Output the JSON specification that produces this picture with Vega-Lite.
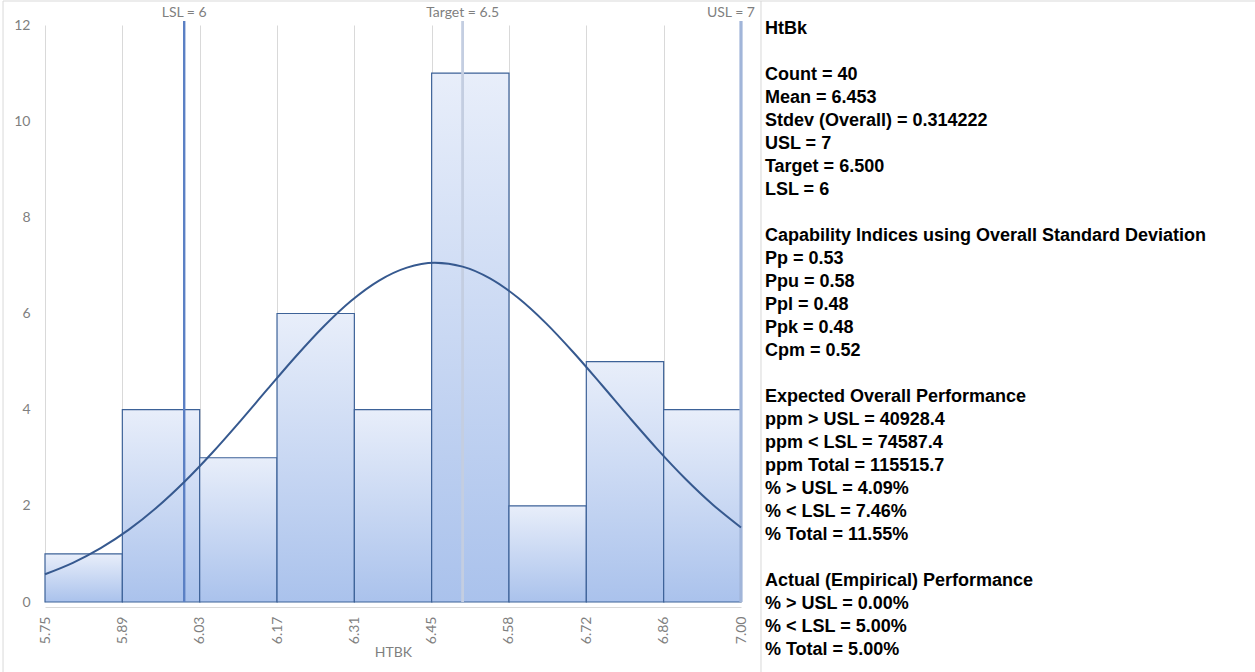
{
  "$schema": "https://vega.github.io/schema/vega-lite/v6.json",
  "width": 696,
  "height": 577,
  "autosize": {"type": "none"},
  "padding": {"left": 45, "top": 25, "right": 514, "bottom": 70},
  "background": "white",
  "config": {"view": {"stroke": null}, "font": "Lato"},
  "datasets": {
    "bins": [
      {"bin_start": 5.75, "bin_end": 5.8889, "count": 1},
      {"bin_start": 5.8889, "bin_end": 6.0278, "count": 4},
      {"bin_start": 6.0278, "bin_end": 6.1667, "count": 3},
      {"bin_start": 6.1667, "bin_end": 6.3056, "count": 6},
      {"bin_start": 6.3056, "bin_end": 6.4444, "count": 4},
      {"bin_start": 6.4444, "bin_end": 6.5833, "count": 11},
      {"bin_start": 6.5833, "bin_end": 6.7222, "count": 2},
      {"bin_start": 6.7222, "bin_end": 6.8611, "count": 5},
      {"bin_start": 6.8611, "bin_end": 7.0, "count": 4}
    ],
    "curve": [
      {"x": 5.75, "y": 0.577}, {"x": 5.8, "y": 0.814}, {"x": 5.85, "y": 1.119},
      {"x": 5.9, "y": 1.499}, {"x": 5.95, "y": 1.959}, {"x": 6.0, "y": 2.495},
      {"x": 6.05, "y": 3.099}, {"x": 6.1, "y": 3.753}, {"x": 6.15, "y": 4.431},
      {"x": 6.2, "y": 5.101}, {"x": 6.25, "y": 5.725}, {"x": 6.3, "y": 6.265},
      {"x": 6.35, "y": 6.685}, {"x": 6.4, "y": 6.954}, {"x": 6.45, "y": 7.053},
      {"x": 6.5, "y": 6.975}, {"x": 6.55, "y": 6.725}, {"x": 6.6, "y": 6.322},
      {"x": 6.65, "y": 5.795}, {"x": 6.7, "y": 5.179}, {"x": 6.75, "y": 4.513},
      {"x": 6.8, "y": 3.833}, {"x": 6.85, "y": 3.175}, {"x": 6.9, "y": 2.564},
      {"x": 6.95, "y": 2.019}, {"x": 7.0, "y": 1.55}
    ],
    "limits": [
      {"name": "LSL", "value": 6.0, "label": "LSL = 6"},
      {"name": "Target", "value": 6.5, "label": "Target = 6.5"},
      {"name": "USL", "value": 7.0, "label": "USL = 7"}
    ],
    "stats": [
      {"line": 0, "text": "HtBk"},
      {"line": 2, "text": "Count = 40"},
      {"line": 3, "text": "Mean = 6.453"},
      {"line": 4, "text": "Stdev (Overall) = 0.314222"},
      {"line": 5, "text": "USL = 7"},
      {"line": 6, "text": "Target = 6.500"},
      {"line": 7, "text": "LSL = 6"},
      {"line": 9, "text": "Capability Indices using Overall Standard Deviation"},
      {"line": 10, "text": "Pp = 0.53"},
      {"line": 11, "text": "Ppu = 0.58"},
      {"line": 12, "text": "Ppl = 0.48"},
      {"line": 13, "text": "Ppk = 0.48"},
      {"line": 14, "text": "Cpm = 0.52"},
      {"line": 16, "text": "Expected Overall Performance"},
      {"line": 17, "text": "ppm > USL = 40928.4"},
      {"line": 18, "text": "ppm < LSL = 74587.4"},
      {"line": 19, "text": "ppm Total = 115515.7"},
      {"line": 20, "text": "% > USL = 4.09%"},
      {"line": 21, "text": "% < LSL = 7.46%"},
      {"line": 22, "text": "% Total = 11.55%"},
      {"line": 24, "text": "Actual (Empirical) Performance"},
      {"line": 25, "text": "% > USL = 0.00%"},
      {"line": 26, "text": "% < LSL = 5.00%"},
      {"line": 27, "text": "% Total = 5.00%"}
    ]
  },
  "layer": [
    {
      "data": {"name": "bins"},
      "mark": {
        "type": "rect",
        "fill": {
          "gradient": "linear", "x1": 0, "y1": 0, "x2": 0, "y2": 1,
          "stops": [{"offset": 0, "color": "#e8eefa"}, {"offset": 1, "color": "#aac2ec"}]
        },
        "stroke": "#3d6298",
        "strokeWidth": 1.2
      },
      "encoding": {
        "x": {
          "field": "bin_start", "type": "quantitative",
          "scale": {"domain": [5.75, 7.0], "nice": false, "zero": false},
          "axis": {
            "values": [5.75, 5.8889, 6.0278, 6.1667, 6.3056, 6.4444, 6.5833, 6.7222, 6.8611, 7.0],
            "labelExpr": "datum.value > 6.44 && datum.value < 6.45 ? '6.45' : format(datum.value, '.2f')",
            "title": "HTBK",
            "titleColor": "#7f7f7f", "titleFontSize": 14, "titleFontWeight": "normal", "titlePadding": 2,
            "labelColor": "#7f7f7f", "labelFontSize": 14, "labelAngle": 270, "labelPadding": 9,
            "grid": true, "gridColor": "#d9d9d9", "gridWidth": 1,
            "ticks": false, "domain": true, "domainColor": "#d9d9d9", "domainWidth": 1.2, "offset": 5,
            "labelFlush": false, "labelOverlap": false
          }
        },
        "x2": {"field": "bin_end"},
        "y": {
          "field": "count", "type": "quantitative",
          "scale": {"domain": [0, 12], "nice": false},
          "axis": {
            "values": [0, 2, 4, 6, 8, 10, 12],
            "title": null, "grid": false, "ticks": false, "domain": false,
            "labelColor": "#7f7f7f", "labelFontSize": 14, "labelPadding": 15
          }
        },
        "y2": {"datum": 0}
      }
    },
    {
      "data": {"name": "limits"},
      "mark": {"type": "rule"},
      "encoding": {
        "x": {"field": "value", "type": "quantitative"},
        "y": {"datum": 0, "axis": null, "scale": {"domain": [0, 12], "nice": false}},
        "y2": {"datum": 12.083},
        "color": {
          "field": "name", "type": "nominal", "legend": null,
          "scale": {"domain": ["LSL", "Target", "USL"], "range": ["#5b80c4", "#c4cee1", "#a1b5d9"]}
        },
        "strokeWidth": {
          "field": "name", "type": "nominal", "legend": null,
          "scale": {"domain": ["LSL", "Target", "USL"], "range": [2.4, 3.2, 2.2]}
        }
      }
    },
    {
      "data": {"name": "limits"},
      "transform": [{"filter": "datum.name != 'USL'"}],
      "mark": {"type": "text", "baseline": "bottom", "align": "center", "dy": -1, "fontSize": 14, "color": "#7f7f7f"},
      "encoding": {
        "x": {"field": "value", "type": "quantitative"},
        "y": {"datum": 12.083, "axis": null, "scale": {"domain": [0, 12], "nice": false}},
        "text": {"field": "label"}
      }
    },
    {
      "data": {"name": "limits"},
      "transform": [{"filter": "datum.name == 'USL'"}],
      "mark": {"type": "text", "baseline": "bottom", "align": "right", "dx": 14, "dy": -1, "fontSize": 14, "color": "#7f7f7f"},
      "encoding": {
        "x": {"field": "value", "type": "quantitative"},
        "y": {"datum": 12.083, "axis": null, "scale": {"domain": [0, 12], "nice": false}},
        "text": {"field": "label"}
      }
    },
    {
      "data": {"name": "curve"},
      "mark": {"type": "line", "interpolate": "monotone", "color": "#36598f", "strokeWidth": 2},
      "encoding": {
        "x": {"field": "x", "type": "quantitative"},
        "y": {"field": "y", "type": "quantitative", "axis": null, "scale": {"domain": [0, 12], "nice": false}}
      }
    },
    {
      "data": {"values": [{}]},
      "mark": {"type": "rule", "color": "#d9d9d9", "strokeWidth": 1},
      "encoding": {
        "x": {"datum": 5.6746},
        "x2": {"datum": 7.9231},
        "y": {"datum": 12.499, "axis": null, "scale": {"domain": [0, 12], "nice": false}}
      }
    },
    {
      "data": {"values": [{}]},
      "mark": {"type": "rule", "color": "#d9d9d9", "strokeWidth": 1},
      "encoding": {
        "x": {"datum": 5.6746},
        "y": {"datum": 12.499, "axis": null, "scale": {"domain": [0, 12], "nice": false}},
        "y2": {"datum": -1.456}
      }
    },
    {
      "data": {"values": [{}]},
      "mark": {"type": "rule", "color": "#d9d9d9", "strokeWidth": 1},
      "encoding": {
        "x": {"datum": 7.0359},
        "y": {"datum": 12.499, "axis": null, "scale": {"domain": [0, 12], "nice": false}},
        "y2": {"datum": -1.456}
      }
    },
    {
      "data": {"name": "stats"},
      "mark": {"type": "text", "align": "left", "baseline": "middle", "font": "Liberation Sans", "fontSize": 18, "fontWeight": "bold", "color": "#000000"},
      "encoding": {
        "x": {"datum": 7.043},
        "y": {
          "field": "line", "type": "quantitative", "axis": null,
          "scale": {"domain": [-0.1739, 24.913], "reverse": true, "nice": false, "zero": false}
        },
        "text": {"field": "text"}
      }
    }
  ],
  "resolve": {"scale": {"y": "independent"}}
}
